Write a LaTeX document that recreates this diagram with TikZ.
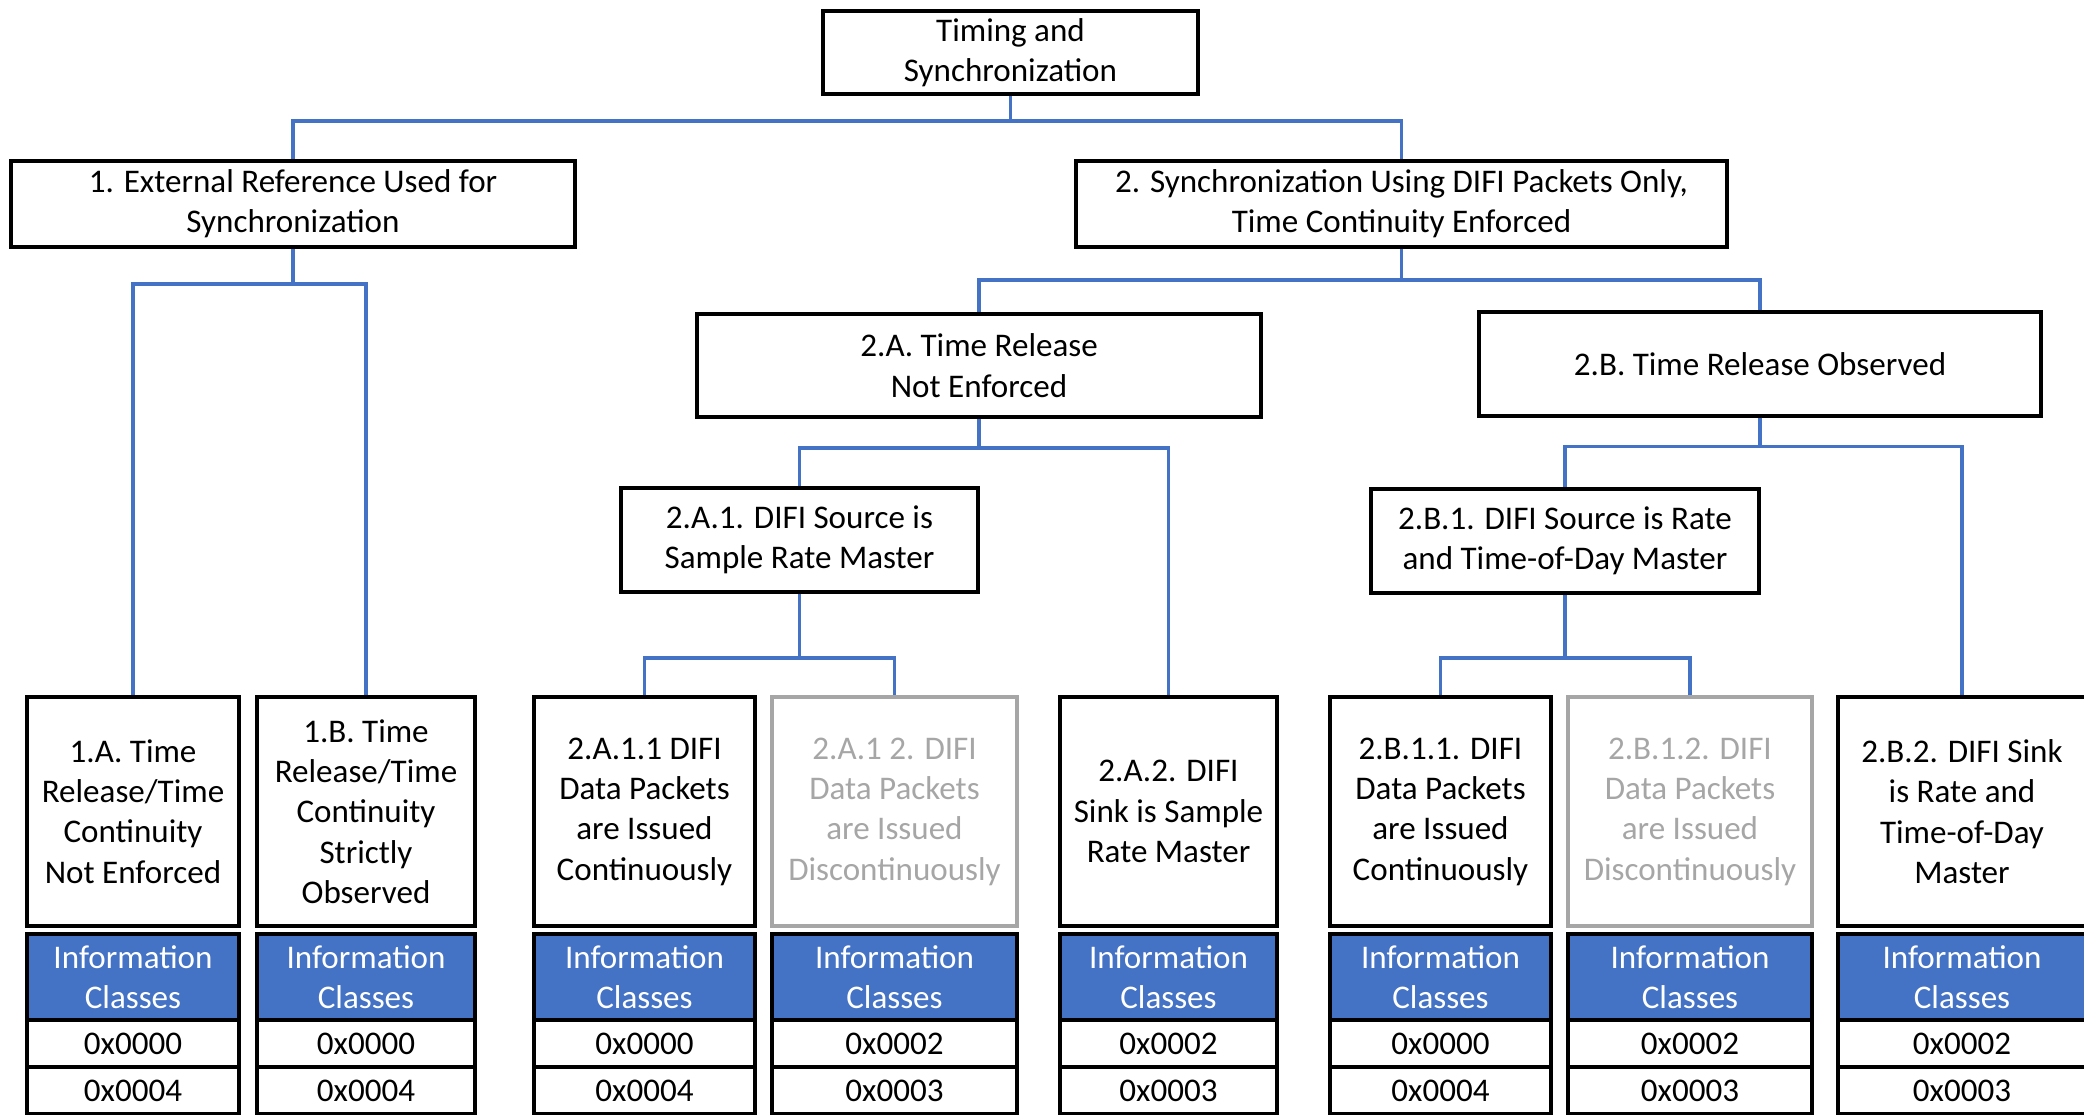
\documentclass[tikz,border=0pt]{standalone}
\usepackage{fontspec}
\setmainfont{Carlito}
\usepackage{tikz}
\usetikzlibrary{positioning, calc}
\usepackage{xcolor}
\definecolor{difiblue}{RGB}{68, 114, 196}
\definecolor{fadegray}{RGB}{166, 166, 166}

\begin{document}
\begin{tikzpicture}[
  x=0.01cm, y=-0.01cm,
  every node/.style={font=\fontsize{9.4}{11.47}\selectfont},
  box/.style={draw, line width=1.15pt, align=center, inner sep=0pt},
  leaf/.style={box, minimum height=2.28cm},
  faded/.style={draw=fadegray, text=fadegray},
  infohead/.style={draw, line width=1.15pt, fill=difiblue, text=white, align=center,
                   inner sep=0pt, outer sep=0pt, minimum height=0.865cm},
  infocell/.style={draw, line width=1.15pt, inner sep=0pt, outer sep=0pt, minimum height=0.47cm},
  conn/.style={draw=difiblue, line width=1pt}
]
\useasboundingbox (0,0) rectangle (2084,1115);
\clip (0,0) rectangle (2084,1115);

\node[box, minimum width=3.75cm, minimum height=0.83cm] (T) at (1010.5,52.5) {Timing and\\Synchronization};
\node[box, minimum width=5.64cm, minimum height=0.86cm] (S1) at (293,204) {1. External Reference Used for\\Synchronization};
\node[box, minimum width=6.51cm, minimum height=0.86cm] (S2) at (1401.5,204) {2. Synchronization Using DIFI Packets Only,\\Time Continuity Enforced};
\node[box, minimum width=5.64cm, minimum height=1.03cm] (S2A) at (979,365.5) {2.A. Time Release\\Not Enforced};
\node[box, minimum width=5.62cm, minimum height=1.03cm] (S2B) at (1760,364) {2.B. Time Release Observed};
\node[box, minimum width=3.57cm, minimum height=1.04cm] (S2A1) at (799.5,540) {2.A.1. DIFI Source is\\Sample Rate Master};
\node[box, minimum width=3.88cm, minimum height=1.04cm] (S2B1) at (1565,541) {2.B.1. DIFI Source is Rate\\and Time-of-Day Master};

\node[leaf, minimum width=2.12cm] (L1A) at (133,811.5) {1.A. Time\\Release/Time\\Continuity\\Not Enforced};
\node[leaf, minimum width=2.18cm] (L1B) at (366,811.5) {1.B. Time\\Release/Time\\Continuity\\Strictly\\Observed};
\node[leaf, minimum width=2.21cm] (L2A11) at (644.5,811.5) {2.A.1.1 DIFI\\Data Packets\\are Issued\\Continuously};
\node[leaf, faded, minimum width=2.45cm] (L2A12) at (894.5,811.5) {2.A.1 2. DIFI\\Data Packets\\are Issued\\Discontinuously};
\node[leaf, minimum width=2.17cm] (L2A2) at (1168.5,811.5) {2.A.2. DIFI\\Sink is Sample\\Rate Master};
\node[leaf, minimum width=2.21cm] (L2B11) at (1440.5,811.5) {2.B.1.1. DIFI\\Data Packets\\are Issued\\Continuously};
\node[leaf, faded, minimum width=2.44cm] (L2B12) at (1690,811.5) {2.B.1.2. DIFI\\Data Packets\\are Issued\\Discontinuously};
\node[leaf, minimum width=2.48cm] (L2B2) at (1962,811.5) {2.B.2. DIFI Sink\\is Rate and\\Time-of-Day\\Master};

\foreach \n/\w/\a/\b in {L1A/2.12/0x0000/0x0004, L1B/2.18/0x0000/0x0004,
    L2A11/2.21/0x0000/0x0004, L2A12/2.45/0x0002/0x0003, L2A2/2.17/0x0002/0x0003,
    L2B11/2.21/0x0000/0x0004, L2B12/2.44/0x0002/0x0003, L2B2/2.48/0x0002/0x0003} {
  \node[infohead, minimum width=\w cm, below=0.06cm of \n] (\n-h) {Information\\Classes};
  \node[infocell, minimum width=\w cm, below=0pt of \n-h] (\n-r1) {\a};
  \node[infocell, minimum width=\w cm, below=0pt of \n-r1] (\n-r2) {\b};
}

\draw[conn] (T.south) -- ++(0,25) -| (S1.north);
\draw[conn] (T.south) -- ++(0,25) -| (S2.north);
\draw[conn] (S1.south) -- ++(0,35) -| (L1A.north);
\draw[conn] (S1.south) -- ++(0,35) -| (L1B.north);
\draw[conn] (S2.south) -- ++(0,31) -| (S2A.north);
\draw[conn] (S2.south) -- ++(0,31) -| (S2B.north);
\draw[conn] (S2A.south) -- ++(0,29) -| (S2A1.north);
\draw[conn] (S2A.south) -- ++(0,29) -| (L2A2.north);
\draw[conn] (S2B.south) -- ++(0,29) -| (S2B1.north);
\draw[conn] (S2B.south) -- ++(0,29) -| (L2B2.north);
\draw[conn] (S2A1.south) -- ++(0,64) -| (L2A11.north);
\draw[conn] (S2A1.south) -- ++(0,64) -| (L2A12.north);
\draw[conn] (S2B1.south) -- ++(0,63) -| (L2B11.north);
\draw[conn] (S2B1.south) -- ++(0,63) -| (L2B12.north);
\end{tikzpicture}
\end{document}
